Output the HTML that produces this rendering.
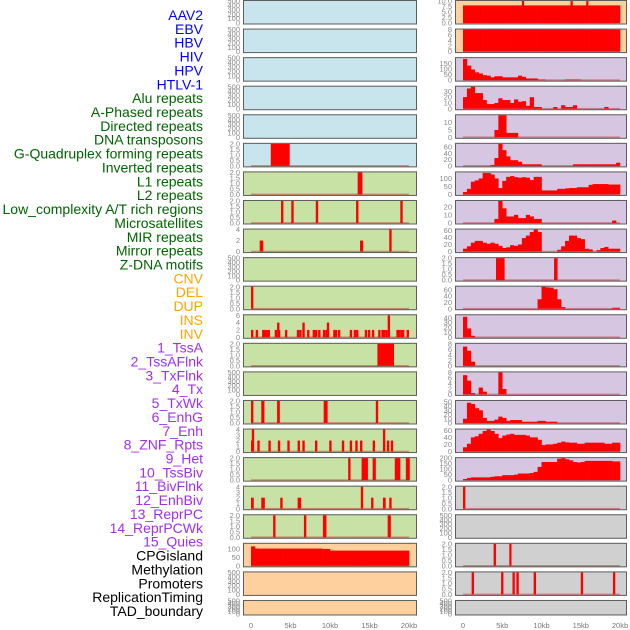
<!DOCTYPE html>
<html><head><meta charset="utf-8"><style>
html,body{margin:0;padding:0;background:#fff;width:630px;height:630px;overflow:hidden}
svg{display:block}
</style></head><body>
<svg id="chart" width="630" height="630" viewBox="0 0 630 630" xmlns="http://www.w3.org/2000/svg"></svg>
<script>
// ---------- labels ----------
const labelTexts = ["AAV2","EBV","HBV","HIV","HPV","HTLV-1","Alu repeats","A-Phased repeats","Directed repeats","DNA transposons","G-Quadruplex forming repeats","Inverted repeats","L1 repeats","L2 repeats","Low_complexity A/T rich regions","Microsatellites","MIR repeats","Mirror repeats","Z-DNA motifs","CNV","DEL","DUP","INS","INV","1_TssA","2_TssAFlnk","3_TxFlnk","4_Tx","5_TxWk","6_EnhG","7_Enh","8_ZNF_Rpts","9_Het","10_TssBiv","11_BivFlnk","12_EnhBiv","13_ReprPC","14_ReprPCWk","15_Quies","CPGisland","Methylation","Promoters","ReplicationTiming","TAD_boundary"];
const labelGroups = [0,0,0,0,0,0,1,1,1,1,1,1,1,1,1,1,1,1,1,2,2,2,2,2,3,3,3,3,3,3,3,3,3,3,3,3,3,3,3,4,4,4,4,4];
const groupColors = ["#0000ff","#006400","#ffa500","#a030e8","#000000"];

// ---------- axes ----------
const xTickValues = [0,5,10,15,20];
const xTickLabels = ["0","5kb","10kb","15kb","20kb"];
const emptyTicks = [0,100,200,300,400,500];
const emptyTickLabels = ["0","100","200","300","400","500"];
const t2 = [0,0.5,1,1.5,2];
const t2Labels = ["0.0","0.5","1.0","1.5","2.0"];

// ---------- left column data ----------
const L5pos=[2.5], L5wid=[2.4], L5val=[2];
const L6pos=[13.5], L6wid=[0.6], L6val=[2];
const L7pos=[3.8,5.1,8.2,13.3,18.9], L7val=[2,2,2,2,2];
const L8pos=[1.1,13.8,17.5], L8wid=[0.45,0.4,0.3], L8val=[2,2,4];
const L10pos=[0], L10val=[2];
const L11pos=[0,0.6,1.4,1.6,1.9,2.1,3.0,3.3,3.4,4.3,5.8,6.1,6.5,7.1,7.8,8.1,8.5,9.1,9.4,9.6,10.4,10.6,11.0,12.5,13.0,13.3,14.4,14.8,15.3,16.1,16.5,16.7,17.0,17.3,18.4,18.6,18.9,19.1,19.7];
const L11val=[2,2,2,2,2,2,2,4,2,2,2,2,4,2,2,2,2,2,2,4,2,2,2,2,2,2,2,2,2,2,2,2,2,6,2,2,2,2,2];
const L12pos=[16.0], L12wid=[2.1], L12val=[2];
const L14pos=[0,1.3,3.3,9.2,15.8], L14wid=[0.3,0.4,0.35,0.5,0.3], L14val=[2,2,2,2,2];
const L15pos=[0,0.1,0.8,2.2,3.4,4.6,5.9,6.5,8.1,9.9,11.5,12.5,13.2,13.8,15.4,16.7,17.2,17.7];
const L15val=[2,4,2,2,2,2,2,2,2,2,2,2,2,2,2,4,2,2];
const L16pos=[12.3,14.0,15.4,18.2,19.6], L16wid=[0.3,0.8,0.4,0.7,0.5], L16val=[2,2,2,2,2];
const L17pos=[0,1.3,3.7,5.9,13.9,15.2,16.7,17.5], L17wid=[0.35,0.45,0.3,0.45,0.3,0.3,0.35,0.3], L17val=[2,2,2,2,4,2,2,2];
const L18pos=[2.8,6.7,9.1,17.3], L18wid=[0.3,0.3,0.45,0.4], L18val=[2,2,2,2];
const L19bins=[115,102,102,102,102,102,102,102,102,102,102,102,102,102,102,102,102,102,100,100,90,90,90,90,90,90,90,90,90,90,90,90,90,90,90,90,90,90,90,90];

// ---------- right column data ----------
const R0bins=[8,8,8,8,8,8,8,8,8,8,8,8,8,8,8,8,8,8,8,8,8,8,8,8,8,8,8,8,8,8,8,8,8,8,8,8,8,8,8,8];
const R0pos=[7.5,13.7,15.7], R0wid=[0.2,0.2,0.2], R0val=[10,10,10];
const R1bins=[8,8,8,8,8,8,8,8,8,8,8,8,8,8,8,8,8,8,8,8,8,8,8,8,8,8,8,8,8,8,8,8,8,8,8,8,8,8,8,8];
const R2bins=[190,130,95,70,60,45,40,25,35,35,25,25,25,25,40,30,15,15,15,5,5,0,0,0,0,0,5,5,5,5,0,0,0,0,0,0,0,0,0,0];
const R3bins=[20,35,38,27,27,15,8,8,10,18,15,15,10,16,12,13,5,20,3,3,0,0,0,3,0,6,3,3,6,0,0,0,0,0,0,0,3,0,0,0];
const R4bins=[0,0,0,0,0,0,0,0,5,15,15,3,3,3,0,0,0,0,0,0,0,0,0,0,0,0,0,0,0,0,0,0,0,0,0,0,0,0,0,0];
const R5bins=[0,0,0,0,0,0,0,3,25,70,50,30,18,18,13,5,5,5,5,5,0,0,0,0,0,0,0,0,5,5,5,5,5,5,5,5,5,5,5,10];
const R6bins=[15,35,80,88,100,135,135,125,100,40,85,110,115,108,105,108,105,90,110,110,25,25,25,25,35,35,38,40,40,45,45,45,60,65,65,65,65,62,62,62];
const R7bins=[0,0,0,0,0,0,0,0,5,27,18,8,8,10,6,6,10,8,5,5,0,0,0,0,0,0,0,0,0,0,0,0,0,0,0,0,0,0,3,0];
const R8bins=[8,15,25,30,30,25,22,25,22,16,10,12,18,16,20,38,45,55,62,55,0,0,0,0,5,15,30,45,45,38,35,8,6,0,4,10,13,8,8,8];
const R9pos=[4.2,11.6], R9wid=[1.1,0.45], R9val=[2,2];
const R10bins=[0,0,0,0,0,0,0,0,0,0,0,0,0,0,0,0,0,0,0,30,70,68,67,62,30,5,0,0,0,0,0,0,0,0,0,0,0,0,3,3];
const R11bins=[42,18,3,0,0,0,0,0,0,0,0,0,0,0,0,0,0,0,0,0,0,0,0,0,0,0,0,0,0,0,0,0,0,0,0,0,0,0,0,0];
const R12bins=[7,5.5,1.5,0,0,0,0,0,0,0,0,0,0,0,0,0,0,0,0,0,0,0,0,0,0,0,0,0,0,0,0,0,0,0,0,0,0,0,0,0];
const R13bins=[7,5,0.5,0,2.5,1,0,0,0,8,2,0,0,0,0,0,0,0,0,0,0,0,0,0,0,0,0,0,0,0,0,0,0,0,0,0,0,0,0,0];
const R14bins=[10,48,45,35,30,12,5,5,8,15,12,5,7,7,7,3,3,3,3,5,5,3,3,3,0,0,0,0,0,0,0,0,0,0,0,0,0,0,0,0];
const R15bins=[12,22,40,43,50,58,62,58,50,38,45,48,50,47,47,47,45,40,40,33,18,20,20,22,25,28,26,25,25,22,22,25,25,25,25,25,22,22,25,25];
const R16bins=[10,20,25,25,25,25,25,30,35,35,45,45,45,50,60,60,60,65,75,120,165,165,165,165,195,200,190,180,165,160,165,175,175,175,175,175,175,175,170,170];
const R17pos=[0], R17wid=[0.3], R17val=[2];
const R19pos=[3.9,5.9], R19wid=[0.3,0.25], R19val=[2,2];
const R20pos=[1.1,4.85,6.3,6.8,9.0,15.0,19.1], R20val=[2,2,2,2,2,2,2];

// ---------- panel config ----------
const BLUE="#c8e4ec", GREEN="#c8e1a4", PEACH="#fed09e", LAV="#d6c6e2", GRAY="#d0d0d0";
function E(){return {ticks:emptyTicks,tl:emptyTickLabels,ymax:500,empty:true};}
function T2(){return {ticks:t2,tl:t2Labels,ymax:2};}
const leftPanels=[
 Object.assign(E(),{bg:BLUE}),Object.assign(E(),{bg:BLUE}),Object.assign(E(),{bg:BLUE}),Object.assign(E(),{bg:BLUE}),Object.assign(E(),{bg:BLUE}),
 Object.assign(T2(),{bg:BLUE,pos:L5pos,wid:L5wid,val:L5val}),
 Object.assign(T2(),{bg:GREEN,pos:L6pos,wid:L6wid,val:L6val}),
 Object.assign(T2(),{bg:GREEN,pos:L7pos,val:L7val}),
 {bg:GREEN,ticks:[0,2,4],tl:["0","2","4"],ymax:4,pos:L8pos,wid:L8wid,val:L8val},
 Object.assign(E(),{bg:GREEN}),
 Object.assign(T2(),{bg:GREEN,pos:L10pos,val:L10val}),
 {bg:GREEN,ticks:[0,2,4,6],tl:["0","2","4","6"],ymax:6,pos:L11pos,val:L11val},
 Object.assign(T2(),{bg:GREEN,pos:L12pos,wid:L12wid,val:L12val}),
 Object.assign(E(),{bg:GREEN}),
 Object.assign(T2(),{bg:GREEN,pos:L14pos,wid:L14wid,val:L14val}),
 {bg:GREEN,ticks:[0,1,2,3,4],tl:["0","1","2","3","4"],ymax:4,pos:L15pos,val:L15val},
 Object.assign(T2(),{bg:GREEN,pos:L16pos,wid:L16wid,val:L16val}),
 {bg:GREEN,ticks:[0,1,2,3,4],tl:["0","1","2","3","4"],ymax:4,pos:L17pos,wid:L17wid,val:L17val},
 Object.assign(T2(),{bg:GREEN,pos:L18pos,wid:L18wid,val:L18val}),
 {bg:PEACH,ticks:[0,50,100],tl:["0","50","100"],ymax:130,bins:L19bins},
 Object.assign(E(),{bg:PEACH}),Object.assign(E(),{bg:PEACH})
];
const rightPanels=[
 {bg:PEACH,ticks:[0,2.5,5,7.5,10],tl:["0.0","2.5","5.0","7.5","10.0"],ymax:10,bins:R0bins,pos:R0pos,wid:R0wid,val:R0val},
 {bg:PEACH,ticks:[0,2,4,6,8],tl:["0","2","4","6","8"],ymax:8,bins:R1bins},
 {bg:LAV,ticks:[0,50,100,150],tl:["0","50","100","150"],ymax:197,bins:R2bins},
 {bg:LAV,ticks:[0,10,20,30],tl:["0","10","20","30"],ymax:38,bins:R3bins},
 {bg:LAV,ticks:[0,5,10],tl:["0","5","10"],ymax:15,bins:R4bins},
 {bg:LAV,ticks:[0,20,40,60],tl:["0","20","40","60"],ymax:70,bins:R5bins},
 {bg:LAV,ticks:[0,50,100],tl:["0","50","100"],ymax:138,bins:R6bins},
 {bg:LAV,ticks:[0,10,20],tl:["0","10","20"],ymax:27,bins:R7bins},
 {bg:LAV,ticks:[0,20,40,60],tl:["0","20","40","60"],ymax:62,bins:R8bins},
 Object.assign(T2(),{bg:LAV,pos:R9pos,wid:R9wid,val:R9val}),
 {bg:LAV,ticks:[0,20,40,60],tl:["0","20","40","60"],ymax:70,bins:R10bins},
 {bg:LAV,ticks:[0,10,20,30,40],tl:["0","10","20","30","40"],ymax:45,bins:R11bins},
 {bg:LAV,ticks:[0,2,4,6,8],tl:["0","2","4","6","8"],ymax:8,bins:R12bins},
 {bg:LAV,ticks:[0,2,4,6,8],tl:["0","2","4","6","8"],ymax:8,bins:R13bins},
 {bg:LAV,ticks:[0,10,20,30,40,50],tl:["0","10","20","30","40","50"],ymax:52,bins:R14bins},
 {bg:LAV,ticks:[0,20,40,60],tl:["0","20","40","60"],ymax:62,bins:R15bins},
 {bg:LAV,ticks:[0,50,100,150,200],tl:["0","50","100","150","200"],ymax:200,bins:R16bins},
 Object.assign(T2(),{bg:GRAY,pos:R17pos,wid:R17wid,val:R17val}),
 Object.assign(E(),{bg:GRAY}),
 Object.assign(T2(),{bg:GRAY,pos:R19pos,wid:R19wid,val:R19val}),
 Object.assign(T2(),{bg:GRAY,pos:R20pos,val:R20val}),
 Object.assign(E(),{bg:GRAY})
];

const svg=document.getElementById('chart');
const NS="http://www.w3.org/2000/svg";
function mk(tag,attrs,parent){const e=document.createElementNS(NS,tag);for(const k in attrs)e.setAttribute(k,attrs[k]);(parent||svg).appendChild(e);return e;}

// labels
labelTexts.forEach((t,i)=>{
  const e=mk('text',{x:203,y:(15+13.86*i+5).toFixed(1),'text-anchor':'end','font-size':'14','font-family':'"Liberation Sans", sans-serif',fill:groupColors[labelGroups[i]]});
  
  
  e.textContent=t;
});

const cols=[{px:243,pw:174,x0:251,x1:409,panels:leftPanels,name:'left'},{px:455,pw:172,x0:463,x1:620,panels:rightPanels,name:'right'}];
function xs(c,kb){return c.x0+kb*(c.x1-c.x0)/20;}

cols.forEach(c=>{
  c.panels.forEach((p,i)=>{
    const top=28.57*i, h=(i===21?15.5:24.5);
    const bottom=top+h, zeroY=bottom-1.5, span=h-2.5;
    const ys=v=>zeroY-Math.min(v,p.ymax)/p.ymax*span;
    const g=mk('g',{});
    
    
    const bg=mk('rect',{x:c.px,y:top,width:c.pw,height:h,fill:p.bg},g);
    
    
    if(!p.empty){
      const bl=mk('rect',{x:xs(c,0),y:zeroY-0.8,width:xs(c,20)-xs(c,0),height:1.6,fill:'rgba(190,30,30,0.45)'},g);
      
      
    }
    if(p.bins){
      p.bins.forEach((v,b)=>{
        if(v<=0)return;
        const xa=xs(c,b*0.5), xb=xs(c,(b+1)*0.5);
        const r=mk('rect',{x:xa.toFixed(2),y:ys(v).toFixed(2),width:(xb-xa+0.3).toFixed(2),height:(zeroY-ys(v)).toFixed(2),fill:'#ff0000'},g);
        
        
      });
    }
    if(p.pos){
      p.pos.forEach((s,k)=>{
        const w=p.wid?p.wid[k]:0.3;
        const v=p.val[k];
        const xa=xs(c,s), xb=xs(c,s+w);
        const r=mk('rect',{x:xa.toFixed(2),y:ys(v).toFixed(2),width:Math.max(2.2,xb-xa).toFixed(2),height:(zeroY-ys(v)).toFixed(2),fill:'#ff0000'},g);
        
        
      });
    }
    const fr=mk('rect',{x:c.px+0.5,y:top+0.5,width:c.pw-1,height:h-1,fill:'none',stroke:'#5e5e5e','stroke-width':1},g);
    
    
    p.ticks.forEach((t,k)=>{
      const tt=mk('text',{x:c.px-3,y:(ys(t)+2.6).toFixed(1),'text-anchor':'end','font-size':'7.5','font-family':'"Liberation Sans", sans-serif',fill:'#888'},g);
      
      
      tt.textContent=p.tl[k];
    });
  });
  xTickValues.forEach((v,k)=>{
    const t=mk('text',{x:xs(c,v).toFixed(1),y:628,'text-anchor':'middle','font-size':'7.5','font-family':'"Liberation Sans", sans-serif',fill:'#777'});
    
    
    t.textContent=xTickLabels[k];
  });
});
</script>
</body></html>
